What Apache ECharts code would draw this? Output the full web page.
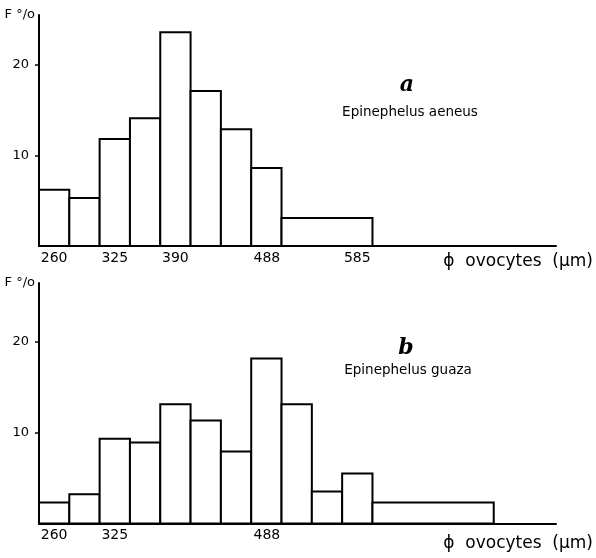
<!DOCTYPE html>
<html>
<head>
<meta charset="utf-8">
<script src="https://cdn.jsdelivr.net/npm/echarts@6/dist/echarts.min.js"></script>
<style>
  html, body { margin: 0; padding: 0; background: #fff; }
  #chart { width: 596px; height: 558px; }
</style>
</head>
<body>
<div id="chart"></div>
<script>
// class edges (µm) and frequencies (%), one more edge than bars
const aeneusEdges = [243.75, 276.25, 308.75, 341.25, 373.75, 406.25, 438.75, 471.25, 503.75, 601.25]
const aeneusFreq = [6.2, 5.3, 11.8, 14.1, 23.6, 17.1, 12.9, 8.6, 3.1]

const guazaEdges = [243.75, 276.25, 308.75, 341.25, 373.75, 406.25, 438.75, 471.25, 503.75, 536.25, 568.75, 601.25, 731.25]
const guazaFreq = [2.3, 3.2, 9.3, 8.9, 13.1, 11.3, 7.9, 18.1, 13.1, 3.5, 5.5, 2.3]

const aeneusTicks = [260, 325, 390, 488, 585]
const guazaTicks = [260, 325, 488]
const yTicks = [10, 20]

const toBars = (edges, freq) => freq.map((f, i) => [edges[i], edges[i + 1], f])

const chart = echarts.init(document.getElementById('chart'))

const font = 'DejaVu Sans, sans-serif'
const black = '#000'

const renderBar = (params, api) => {
  const p0 = api.coord([api.value(0), 0])
  const p1 = api.coord([api.value(1), api.value(2)])
  return {
    type: 'rect',
    shape: { x: p0[0], y: p1[1], width: p1[0] - p0[0], height: p0[1] - p1[1] },
    style: { fill: '#fff', stroke: black, lineWidth: 2 }
  }
}

const makeX = (gridIndex, ticks, nameTop) => ({
  type: 'value',
  gridIndex,
  min: 243.75,
  max: 798,
  name: 'ϕ  ovocytes  (µm)',
  nameLocation: 'end',
  nameGap: 37,
  nameTextStyle: {
    fontFamily: font, fontSize: 17, color: black,
    align: 'right', verticalAlign: 'top', padding: [nameTop, 0, 0, 0]
  },
  axisLine: { lineStyle: { color: black, width: 2 } },
  axisTick: { show: false },
  splitLine: { show: false },
  axisLabel: {
    customValues: ticks,
    margin: 5,
    fontFamily: font, fontSize: 14, color: black
  }
})

const makeY = (gridIndex, max) => ({
  type: 'value',
  gridIndex,
  min: 0,
  max,
  name: 'F °/o',
  nameLocation: 'end',
  nameGap: 0,
  nameTextStyle: {
    fontFamily: font, fontSize: 13, color: black,
    align: 'right', verticalAlign: 'middle', padding: [0, 4, 0, 0]
  },
  axisLine: { show: true, lineStyle: { color: black, width: 2 } },
  axisTick: { show: true, customValues: yTicks, length: 4, lineStyle: { color: black, width: 1.5 } },
  splitLine: { show: false },
  axisLabel: {
    customValues: yTicks,
    margin: 10,
    fontFamily: font, fontSize: 13, color: black
  }
})

const option = {
  backgroundColor: '#fff',
  animation: false,
  grid: [
    { left: 39, right: 40, top: 15, bottom: 312 },
    { left: 39, right: 40, top: 283, bottom: 34.5 }
  ],
  xAxis: [makeX(0, aeneusTicks, 7), makeX(1, guazaTicks, 12)],
  yAxis: [makeY(0, 25.5), makeY(1, 26.4)],
  graphic: [
    { type: 'text', x: 407, y: 85, style: { text: 'a', font: 'italic bold 22px "DejaVu Serif", serif', fill: black, textAlign: 'center', textVerticalAlign: 'middle' } },
    { type: 'text', x: 410, y: 112, style: { text: 'Epinephelus aeneus', font: '13.5px "DejaVu Sans", sans-serif', fill: black, textAlign: 'center', textVerticalAlign: 'middle' } },
    { type: 'text', x: 406, y: 348, style: { text: 'b', font: 'italic bold 22px "DejaVu Serif", serif', fill: black, textAlign: 'center', textVerticalAlign: 'middle' } },
    { type: 'text', x: 408, y: 370, style: { text: 'Epinephelus guaza', font: '13.5px "DejaVu Sans", sans-serif', fill: black, textAlign: 'center', textVerticalAlign: 'middle' } }
  ],
  series: [
    {
      name: 'Epinephelus aeneus',
      type: 'custom',
      xAxisIndex: 0,
      yAxisIndex: 0,
      renderItem: renderBar,
      encode: { x: [0, 1], y: 2 },
      data: toBars(aeneusEdges, aeneusFreq)
    },
    {
      name: 'Epinephelus guaza',
      type: 'custom',
      xAxisIndex: 1,
      yAxisIndex: 1,
      renderItem: renderBar,
      encode: { x: [0, 1], y: 2 },
      data: toBars(guazaEdges, guazaFreq)
    }
  ]
}

chart.setOption(option)
</script>
</body>
</html>
